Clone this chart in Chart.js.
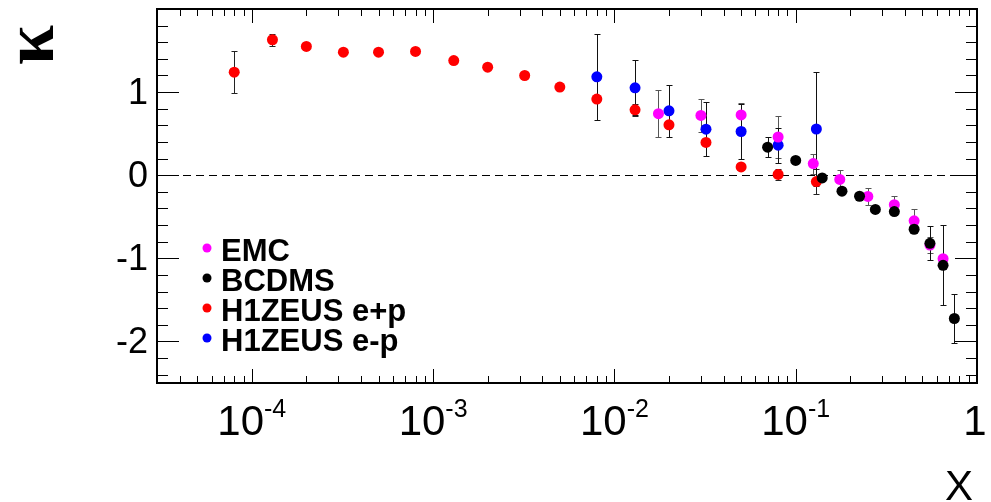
<!DOCTYPE html>
<html>
<head>
<meta charset="utf-8">
<script src="https://cdn.jsdelivr.net/npm/chart.js@4.4.0/dist/chart.umd.min.js"></script>
<style>
  html, body { margin: 0; padding: 0; background: #fff; }
  #wrap { width: 991px; height: 502px; }
</style>
</head>
<body>
<div id="wrap"><canvas id="kappaChart" width="991" height="502"></canvas></div>
<script>
// valores (kappa vs x)
const emcX   = [0.0175, 0.03, 0.05, 0.08, 0.125, 0.175, 0.25, 0.35, 0.45, 0.55, 0.65];
const emcY   = [0.74, 0.72, 0.725, 0.46, 0.14, -0.05, -0.255, -0.355, -0.548, -0.84, -1.005];
const emcErr = [0.28, 0.20, 0.145, 0.25, 0.12, 0.115, 0.10, 0.10, 0.14, 0.10, 0.05];

const bcdmsX   = [0.07, 0.10, 0.14, 0.18, 0.225, 0.275, 0.35, 0.45, 0.55, 0.65, 0.75];
const bcdmsY   = [0.337, 0.178, -0.032, -0.192, -0.253, -0.412, -0.437, -0.65, -0.82, -1.084, -1.724];
const bcdmsErr = [0.12, 0, 0, 0, 0, 0, 0, 0, 0.205, 0.48, 0.29];

const epX   = [8e-5, 1.3e-4, 2e-4, 3.2e-4, 5e-4, 8e-4, 1.3e-3, 2e-3, 3.2e-3, 5e-3, 8e-3, 1.3e-2, 2e-2, 3.2e-2, 5e-2, 8e-2, 0.13];
const epY   = [1.24, 1.63, 1.55, 1.48, 1.48, 1.49, 1.38, 1.30, 1.20, 1.06, 0.916, 0.787, 0.606, 0.394, 0.10, 0.01, -0.077];
const epErr = [0.25, 0.07, 0, 0, 0, 0, 0, 0, 0, 0, 0, 0.07, 0, 0, 0, 0.068, 0.15];

const emX   = [8e-3, 1.3e-2, 2e-2, 3.2e-2, 5e-2, 8e-2, 0.13];
const emY   = [1.184, 1.052, 0.775, 0.554, 0.526, 0.361, 0.556];
const emErr = [0.515, 0.33, 0.31, 0.325, 0.335, 0.21, 0.69];

// etiquetas de los ejes
const xTickExps = [-4, -3, -2, -1, 0];
const yTickVals = [-2, -1, 0, 1];

const toPts = (xs, ys) => xs.map((v, i) => ({ x: v, y: ys[i] }));

const kappaPlugin = {
  id: 'kappaFrame',
  beforeDatasetsDraw(chart) {
    const { ctx, chartArea: a, scales: { x, y } } = chart;
    ctx.save();
    // linea punteada en cero
    ctx.strokeStyle = '#000';
    ctx.lineWidth = 1;
    ctx.setLineDash([8, 5]);
    const y0 = Math.round(y.getPixelForValue(0)) + 0.5;
    ctx.beginPath();
    ctx.moveTo(a.left, y0);
    ctx.lineTo(a.right, y0);
    ctx.stroke();
    ctx.setLineDash([]);

    // barras de error
    chart.data.datasets.forEach(ds => {
      ctx.strokeStyle = ds.errColor;
      ds.data.forEach((p, i) => {
        const e = ds.errors[i];
        if (!e) return;
        const px = Math.round(x.getPixelForValue(p.x)) + 0.5;
        const yt = Math.round(y.getPixelForValue(p.y + e)) + 0.5;
        const yb = Math.round(y.getPixelForValue(p.y - e)) + 0.5;
        ctx.beginPath();
        ctx.moveTo(px, yt); ctx.lineTo(px, yb);
        ctx.moveTo(px - 3, yt); ctx.lineTo(px + 3, yt);
        ctx.moveTo(px - 3, yb); ctx.lineTo(px + 3, yb);
        ctx.stroke();
      });
    });
    ctx.restore();
  },
  afterDraw(chart) {
    const { ctx, chartArea: a, scales: { x, y } } = chart;
    ctx.save();
    ctx.strokeStyle = '#000';

    // marco
    ctx.lineWidth = 2;
    ctx.strokeRect(a.left, a.top, a.right - a.left, a.bottom - a.top);

    // marcas eje y (izq y der)
    ctx.lineWidth = 1;
    ctx.beginPath();
    for (let k = -12; k <= 9; k++) {
      const py = Math.round(y.getPixelForValue(k * 0.2)) + 0.5;
      const len = k % 5 === 0 ? 22 : 11;
      ctx.moveTo(a.left, py); ctx.lineTo(a.left + len, py);
      ctx.moveTo(a.right, py); ctx.lineTo(a.right - len, py);
    }
    // marcas eje x (abajo y arriba)
    for (let d = -5; d <= -1; d++) {
      for (let m = 1; m <= 9; m++) {
        const v = m * Math.pow(10, d);
        if (v <= x.min * 1.001 || v >= x.max) continue;
        const px = Math.round(x.getPixelForValue(v)) + 0.5;
        const len = m === 1 ? 14 : 7;
        ctx.moveTo(px, a.bottom); ctx.lineTo(px, a.bottom - len);
        ctx.moveTo(px, a.top); ctx.lineTo(px, a.top + len);
      }
    }
    ctx.stroke();

    // etiquetas eje y
    ctx.fillStyle = '#000';
    ctx.font = '36px "Liberation Sans", Arial, sans-serif';
    ctx.textAlign = 'right';
    ctx.textBaseline = 'middle';
    yTickVals.forEach(v => {
      ctx.fillText(String(v), a.left - 9, y.getPixelForValue(v) + 2);
    });

    // etiquetas eje x (10^n)
    ctx.textAlign = 'left';
    ctx.textBaseline = 'alphabetic';
    const bigFont = '42px "Liberation Sans", Arial, sans-serif';
    const supFont = '25px "Liberation Sans", Arial, sans-serif';
    xTickExps.forEach(n => {
      const px = x.getPixelForValue(Math.pow(10, n));
      if (n === 0) {
        ctx.font = bigFont;
        ctx.textAlign = 'center';
        ctx.fillText('1', px - 2, 435);
        ctx.textAlign = 'left';
        return;
      }
      const exp = '-' + Math.abs(n);
      ctx.font = bigFont;
      const w1 = ctx.measureText('10').width;
      ctx.font = supFont;
      const w2 = ctx.measureText(exp).width;
      const x0 = px - (w1 + w2) / 2;
      ctx.font = bigFont;
      ctx.fillText('10', x0, 435);
      ctx.font = supFont;
      ctx.fillText(exp, x0 + w1, 417);
    });

    // titulo eje x
    ctx.font = '42px "Liberation Sans", Arial, sans-serif';
    ctx.textAlign = 'right';
    ctx.fillText('X', 973, 500);

    // titulo eje y (kappa girada)
    ctx.save();
    ctx.translate(53, 45);
    ctx.rotate(-Math.PI / 2);
    ctx.font = 'bold 72px "Liberation Serif", "DejaVu Serif", serif';
    ctx.textAlign = 'center';
    ctx.textBaseline = 'alphabetic';
    ctx.fillText('κ', 0, 0);
    ctx.restore();

    // leyenda
    ctx.font = 'bold 31px "Liberation Sans", Arial, sans-serif';
    ctx.textAlign = 'left';
    chart.data.datasets.forEach((ds, i) => {
      const cy = 248 + i * 30;
      ctx.fillStyle = ds.backgroundColor;
      ctx.beginPath();
      ctx.arc(207, cy, 4.5, 0, Math.PI * 2);
      ctx.fill();
      ctx.fillStyle = '#000';
      ctx.fillText(ds.label, 221, cy + 13);
    });
    ctx.restore();
  }
};

const ctx = document.getElementById('kappaChart').getContext('2d');
new Chart(ctx, {
  type: 'scatter',
  data: {
    datasets: [
      { label: 'EMC', data: toPts(emcX, emcY), errors: emcErr, errColor: '#555',
        backgroundColor: '#ff00ff', order: 1 },
      { label: 'BCDMS', data: toPts(bcdmsX, bcdmsY), errors: bcdmsErr, errColor: '#111',
        backgroundColor: '#000000', order: 0 },
      { label: 'H1ZEUS e+p', data: toPts(epX, epY), errors: epErr, errColor: '#222',
        backgroundColor: '#ff0000', order: 3 },
      { label: 'H1ZEUS e-p', data: toPts(emX, emY), errors: emErr, errColor: '#111',
        backgroundColor: '#0000ff', order: 2 }
    ]
  },
  options: {
    responsive: false,
    devicePixelRatio: 1,
    animation: false,
    layout: { padding: { left: 157, right: 14, top: 9, bottom: 119 } },
    elements: { point: { radius: 5.5, borderWidth: 0, hoverRadius: 5.5 } },
    scales: {
      x: { type: 'logarithmic', min: 3e-5, max: 1, display: false },
      y: { type: 'linear', min: -2.5, max: 2, display: false }
    },
    plugins: {
      legend: { display: false },
      tooltip: { enabled: false }
    }
  },
  plugins: [kappaPlugin]
});
</script>
</body>
</html>
